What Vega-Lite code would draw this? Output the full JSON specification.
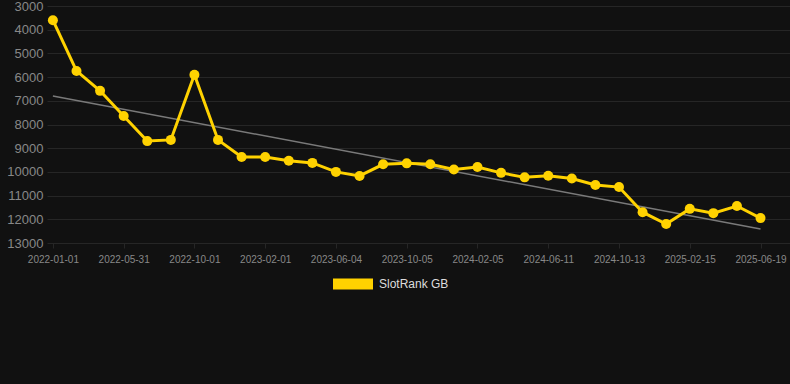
{
  "$schema": "https://vega.github.io/schema/vega-lite/v6.json",
  "width": 743,
  "height": 237,
  "autosize": {"type": "none"},
  "padding": {"left": 47, "top": 6, "right": 0, "bottom": 141},
  "background": "#111111",
  "config": {
    "view": {"stroke": null},
    "font": "Liberation Sans",
    "axis": {"gridColor": "#262626", "gridWidth": 1, "domain": false, "labelColor": "#888888", "tickColor": "#262626"},
    "legend": {"labelColor": "#dddddd", "labelFontSize": 12, "labelFont": "Liberation Sans"}
  },
  "datasets": {
    "main": [
      {"date": "2022-01-01", "rank": 3600, "series": "SlotRank GB"},
      {"date": "2022-02-20", "rank": 5740, "series": "SlotRank GB"},
      {"date": "2022-04-10", "rank": 6580, "series": "SlotRank GB"},
      {"date": "2022-05-31", "rank": 7640, "series": "SlotRank GB"},
      {"date": "2022-07-11", "rank": 8700, "series": "SlotRank GB"},
      {"date": "2022-08-21", "rank": 8650, "series": "SlotRank GB"},
      {"date": "2022-10-01", "rank": 5900, "series": "SlotRank GB"},
      {"date": "2022-11-11", "rank": 8650, "series": "SlotRank GB"},
      {"date": "2022-12-22", "rank": 9370, "series": "SlotRank GB"},
      {"date": "2023-02-01", "rank": 9370, "series": "SlotRank GB"},
      {"date": "2023-03-14", "rank": 9530, "series": "SlotRank GB"},
      {"date": "2023-04-24", "rank": 9620, "series": "SlotRank GB"},
      {"date": "2023-06-04", "rank": 10000, "series": "SlotRank GB"},
      {"date": "2023-07-15", "rank": 10170, "series": "SlotRank GB"},
      {"date": "2023-08-25", "rank": 9680, "series": "SlotRank GB"},
      {"date": "2023-10-05", "rank": 9640, "series": "SlotRank GB"},
      {"date": "2023-11-15", "rank": 9680, "series": "SlotRank GB"},
      {"date": "2023-12-26", "rank": 9900, "series": "SlotRank GB"},
      {"date": "2024-02-05", "rank": 9790, "series": "SlotRank GB"},
      {"date": "2024-03-17", "rank": 10040, "series": "SlotRank GB"},
      {"date": "2024-04-27", "rank": 10230, "series": "SlotRank GB"},
      {"date": "2024-06-11", "rank": 10160, "series": "SlotRank GB"},
      {"date": "2024-07-22", "rank": 10280, "series": "SlotRank GB"},
      {"date": "2024-09-01", "rank": 10550, "series": "SlotRank GB"},
      {"date": "2024-10-13", "rank": 10640, "series": "SlotRank GB"},
      {"date": "2024-11-23", "rank": 11700, "series": "SlotRank GB"},
      {"date": "2025-01-03", "rank": 12200, "series": "SlotRank GB"},
      {"date": "2025-02-15", "rank": 11560, "series": "SlotRank GB"},
      {"date": "2025-03-28", "rank": 11740, "series": "SlotRank GB"},
      {"date": "2025-05-08", "rank": 11440, "series": "SlotRank GB"},
      {"date": "2025-06-19", "rank": 11950, "series": "SlotRank GB"}
    ],
    "trend": [
      {"date": "2022-01-01", "rank": 6800},
      {"date": "2025-06-19", "rank": 12410}
    ]
  },
  "encoding": {
    "x": {
      "field": "date",
      "type": "ordinal",
      "sort": null,
      "title": null,
      "scale": {
        "type": "point",
        "padding": 0.25,
        "domain": ["2022-01-01", "2022-02-20", "2022-04-10", "2022-05-31", "2022-07-11", "2022-08-21", "2022-10-01", "2022-11-11", "2022-12-22", "2023-02-01", "2023-03-14", "2023-04-24", "2023-06-04", "2023-07-15", "2023-08-25", "2023-10-05", "2023-11-15", "2023-12-26", "2024-02-05", "2024-03-17", "2024-04-27", "2024-06-11", "2024-07-22", "2024-09-01", "2024-10-13", "2024-11-23", "2025-01-03", "2025-02-15", "2025-03-28", "2025-05-08", "2025-06-19", " "]
      },
      "axis": {
        "labelAngle": 0,
        "labelFontSize": 10,
        "labelPadding": 6,
        "tickSize": 5,
        "values": ["2022-01-01", "2022-05-31", "2022-10-01", "2023-02-01", "2023-06-04", "2023-10-05", "2024-02-05", "2024-06-11", "2024-10-13", "2025-02-15", "2025-06-19"]
      }
    },
    "y": {
      "field": "rank",
      "type": "quantitative",
      "title": null,
      "scale": {"domain": [3000, 13000], "reverse": true, "nice": false},
      "axis": {"values": [3000, 4000, 5000, 6000, 7000, 8000, 9000, 10000, 11000, 12000, 13000], "format": "d", "labelFontSize": 13, "ticks": false, "labelPadding": 4}
    }
  },
  "layer": [
    {
      "data": {"name": "trend"},
      "mark": {"type": "line", "color": "#7a7a7a", "strokeWidth": 1.5},
      "encoding": {}
    },
    {
      "data": {"name": "main"},
      "mark": {"type": "line", "color": "#ffd200", "strokeWidth": 3},
      "encoding": {}
    },
    {
      "data": {"name": "main"},
      "mark": {"type": "point", "filled": true, "opacity": 1, "size": 100},
      "encoding": {
        "color": {
          "field": "series",
          "type": "nominal",
          "scale": {"range": ["#ffd200"]},
          "legend": {
            "title": null,
            "orient": "none",
            "legendX": 286,
            "legendY": 258,
            "direction": "horizontal",
            "labelOffset": 6,
            "symbolType": "M-1,-0.275L1,-0.275L1,0.275L-1,0.275Z",
            "symbolSize": 1600,
            "symbolStrokeWidth": 0,
            "symbolOpacity": 1
          }
        }
      }
    }
  ]
}
